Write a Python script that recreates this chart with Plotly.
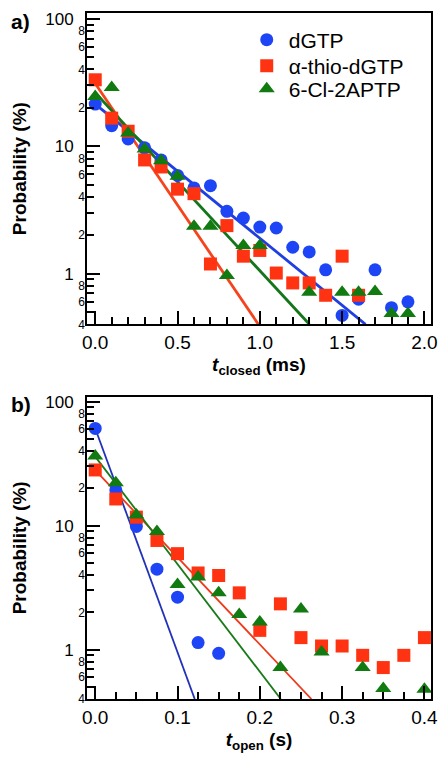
import math
import plotly.graph_objects as go

# ---------------- data: panel a (closed times, ms) ----------------
a_x_blue = [0.0, 0.1, 0.2, 0.3, 0.4, 0.5, 0.6, 0.7, 0.8, 0.9, 1.0, 1.1, 1.2, 1.3, 1.4, 1.5, 1.6, 1.7, 1.8, 1.9]
a_y_blue = [21.4, 14.5, 11.4, 9.7, 7.8, 5.9, 4.7, 4.9, 3.08, 2.73, 2.32, 2.28, 1.61, 1.48, 1.07, 0.47, 0.63, 1.07, 0.54, 0.60]
a_x_red = [0.0, 0.1, 0.2, 0.3, 0.4, 0.5, 0.6, 0.7, 0.8, 0.9, 1.0, 1.1, 1.2, 1.3, 1.4, 1.5, 1.6]
a_y_red = [33.2, 16.6, 13.1, 7.8, 6.87, 4.6, 4.24, 1.19, 2.38, 1.37, 1.52, 1.01, 0.845, 0.845, 0.676, 1.37, 0.676]
a_x_green = [0.0, 0.1, 0.2, 0.3, 0.4, 0.5, 0.6, 0.7, 0.8, 0.9, 1.0, 1.3, 1.5, 1.6, 1.7, 1.8, 1.9]
a_y_green = [24.6, 28.9, 12.7, 9.5, 7.7, 5.8, 2.35, 2.35, 0.965, 1.66, 1.66, 0.713, 0.713, 0.713, 0.725, 0.486, 0.486]

# fitted lines (end points)
a_fit_blue_x = [0.0, 1.642]
a_fit_blue_y = [21.4, 0.4]
a_fit_red_x = [0.0, 0.991]
a_fit_red_y = [31.0, 0.4]
a_fit_green_x = [0.0, 1.301]
a_fit_green_y = [26.3, 0.4]

# ---------------- data: panel b (open times, s) ----------------
b_x_blue = [0.0, 0.025, 0.05, 0.075, 0.1, 0.125, 0.15]
b_y_blue = [60.7, 19.4, 9.84, 4.45, 2.65, 1.14, 0.934]
b_x_red = [0.0, 0.025, 0.05, 0.075, 0.1, 0.125, 0.15, 0.175, 0.2, 0.225, 0.25, 0.275, 0.3, 0.325, 0.35, 0.375, 0.4]
b_y_red = [28.1, 16.4, 11.7, 7.59, 5.94, 4.15, 3.96, 2.87, 1.43, 2.34, 1.25, 1.07, 1.07, 0.90, 0.717, 0.90, 1.25]
b_x_green = [0.0, 0.025, 0.05, 0.075, 0.1, 0.125, 0.15, 0.175, 0.2, 0.225, 0.25, 0.275, 0.325, 0.35, 0.4]
b_y_green = [36.4, 22.2, 12.2, 8.97, 3.35, 3.86, 2.87, 1.92, 1.67, 0.717, 2.13, 0.957, 0.717, 0.486, 0.48]

b_fit_blue_x = [0.0, 0.1209]
b_fit_blue_y = [60.7, 0.4]
b_fit_red_x = [0.0, 0.2627]
b_fit_red_y = [28.0, 0.4]
b_fit_green_x = [0.0, 0.2254]
b_fit_green_y = [36.0, 0.4]

names = ["dGTP", "\u03b1-thio-dGTP", "6-Cl-2APTP"]

# ticks
a_xticks = [0.0, 0.5, 1.0, 1.5, 2.0]
a_xticktext = ["0.0", "0.5", "1.0", "1.5", "2.0"]
a_xminor = [0.1, 0.2, 0.3, 0.4, 0.6, 0.7, 0.8, 0.9, 1.1, 1.2, 1.3, 1.4, 1.6, 1.7, 1.8, 1.9]
b_xticks = [0.0, 0.1, 0.2, 0.3, 0.4]
b_xticktext = ["0.0", "0.1", "0.2", "0.3", "0.4"]
b_xminor = [0.025, 0.05, 0.075, 0.125, 0.15, 0.175, 0.225, 0.25, 0.275, 0.325, 0.35, 0.375]
y_major = [1, 10, 100]
y_major_text = ["1", "10", "100"]
y_minor = [0.4, 0.5, 0.6, 0.7, 0.8, 0.9, 2, 3, 4, 5, 6, 7, 8, 9, 20, 30, 40, 50, 60, 70, 80, 90]
y_minor_lab = [0.4, 0.6, 0.8, 2, 4, 6, 8, 20, 40, 60, 80]
y_minor_text = ["4", "6", "8", "2", "4", "6", "8", "2", "4", "6", "8"]

C_BLUE = "#1d45f5"
C_RED = "#ff3311"
C_GREEN = "#117a11"
L_BLUE_A = "#1f3fe0"
L_RED_A = "#f4431d"
L_GREEN_A = "#13761a"
L_BLUE_B = "#2232b8"
L_RED_B = "#ee3a1c"
L_GREEN_B = "#187a18"

FONT = "Liberation Sans, Arial, sans-serif"
LEGEND_IDS = ["legend", "legend2", "legend3"]

fig = go.Figure()

def add_panel(xa, ya, series, fits, show_legend, lcolors, lw):
    symbols = ["circle", "square", "triangle-up"]
    colors = [C_BLUE, C_RED, C_GREEN]
    for (fx, fy), lc in zip(fits, lcolors):
        fig.add_trace(go.Scatter(x=fx, y=fy, mode="lines", line=dict(color=lc, width=lw),
                                 showlegend=False, xaxis=xa, yaxis=ya, hoverinfo="skip"))
    for (x, y), s, c, n, lg in zip(series, symbols, colors, names, LEGEND_IDS):
        fig.add_trace(go.Scatter(x=x, y=y, mode="markers", name=n, showlegend=show_legend,
                                 legend=lg,
                                 marker=dict(symbol=s, color=c, size=13 if s != "triangle-up" else 14,
                                             line=dict(width=0)),
                                 xaxis=xa, yaxis=ya, cliponaxis=False))

add_panel("x", "y",
          [(a_x_blue, a_y_blue), (a_x_red, a_y_red), (a_x_green, a_y_green)],
          [(a_fit_blue_x, a_fit_blue_y), (a_fit_red_x, a_fit_red_y), (a_fit_green_x, a_fit_green_y)],
          True, [L_BLUE_A, L_RED_A, L_GREEN_A], 2.8)
add_panel("x2", "y2",
          [(b_x_blue, b_y_blue), (b_x_red, b_y_red), (b_x_green, b_y_green)],
          [(b_fit_blue_x, b_fit_blue_y), (b_fit_red_x, b_fit_red_y), (b_fit_green_x, b_fit_green_y)],
          False, [L_BLUE_B, L_RED_B, L_GREEN_B], 1.8)

# dummy traces so the label-only overlay axes exist
fig.add_trace(go.Scatter(x=[None], y=[None], xaxis="x", yaxis="y3", showlegend=False))
fig.add_trace(go.Scatter(x=[None], y=[None], xaxis="x2", yaxis="y4", showlegend=False))

def xaxis_cfg(domain_anchor, rng, tv, tt, minor, title):
    return dict(anchor=domain_anchor, domain=[0, 1], range=rng, tickvals=tv, ticktext=tt,
                automargin=False,
                ticks="inside", ticklen=13, tickwidth=1.6, tickcolor="black",
                minor=dict(tickvals=minor, ticks="inside", ticklen=7, tickwidth=1.6, tickcolor="black"),
                showline=True, linecolor="black", linewidth=2, mirror=True,
                showgrid=False, zeroline=False,
                tickfont=dict(family=FONT, size=19, color="black"),
                ticklabelstandoff=0,
                title=dict(text=title, font=dict(family=FONT, size=19, color="black"), standoff=6))

def yaxis_cfg(anchor, domain, rng):
    return dict(anchor=anchor, domain=domain, type="log", range=rng,
                automargin=False,
                tickvals=y_major, ticktext=y_major_text,
                ticks="inside", ticklen=13, tickwidth=1.6, tickcolor="black",
                minor=dict(tickvals=y_minor, ticks="inside", ticklen=7, tickwidth=1.6, tickcolor="black"),
                showline=True, linecolor="black", linewidth=2, mirror=True,
                showgrid=False, zeroline=False,
                tickfont=dict(family=FONT, size=17, color="black"),
                ticklabelstandoff=8,
                title=dict(text="<b>Probability (%)</b>", font=dict(family=FONT, size=19, color="black"),
                           standoff=14))

def ylab_cfg(overlay, anchor, rng):
    return dict(overlaying=overlay, anchor=anchor, side="left", type="log", range=rng,
                automargin=False,
                tickvals=y_minor_lab, ticktext=y_minor_text, ticks="",
                showline=False, showgrid=False, zeroline=False,
                ticklabelstandoff=1,
                tickfont=dict(family=FONT, size=12, color="black"))

def legend_cfg(yc):
    return dict(x=0.4585, y=yc, xanchor="left", yanchor="middle",
                font=dict(family=FONT, size=21, color="black"),
                bgcolor="rgba(0,0,0,0)", itemwidth=34)

ra = [math.log10(0.4), math.log10(111)]
rb = [math.log10(0.4), math.log10(109.5)]

# the page body has an 8px margin; size the figure so the plot lands where the reference has it
fig.update_layout(
    width=440, height=768,
    margin=dict(l=79, r=16.5, t=5, b=77),
    paper_bgcolor="white", plot_bgcolor="white",
    font=dict(family=FONT, color="black"),
    xaxis=xaxis_cfg("y", [-0.05, 2.04], a_xticks, a_xticktext, a_xminor,
                    "<b><i>t</i><sub>closed</sub> (ms)</b>"),
    yaxis=yaxis_cfg("x", [0.5462, 1.0], ra),
    xaxis2=xaxis_cfg("y2", [-0.01, 0.408], b_xticks, b_xticktext, b_xminor,
                     "<b><i>t</i><sub>open</sub> (s)</b>"),
    yaxis2=yaxis_cfg("x2", [0.0, 0.4407], rb),
    yaxis3=ylab_cfg("y", "x", ra),
    yaxis4=ylab_cfg("y2", "x2", rb),
    legend=legend_cfg(0.9606),
    legend2=legend_cfg(0.9227),
    legend3=legend_cfg(0.8892),
    showlegend=True,
    annotations=[
        dict(text="<b>a)</b>", x=-0.193, y=0.988, xref="paper", yref="paper",
             xanchor="center", yanchor="middle", showarrow=False,
             font=dict(family=FONT, size=21, color="black")),
        dict(text="<b>b)</b>", x=-0.193, y=0.430, xref="paper", yref="paper",
             xanchor="center", yanchor="middle", showarrow=False,
             font=dict(family=FONT, size=21, color="black")),
    ],
)

fig.write_html("out.html")
